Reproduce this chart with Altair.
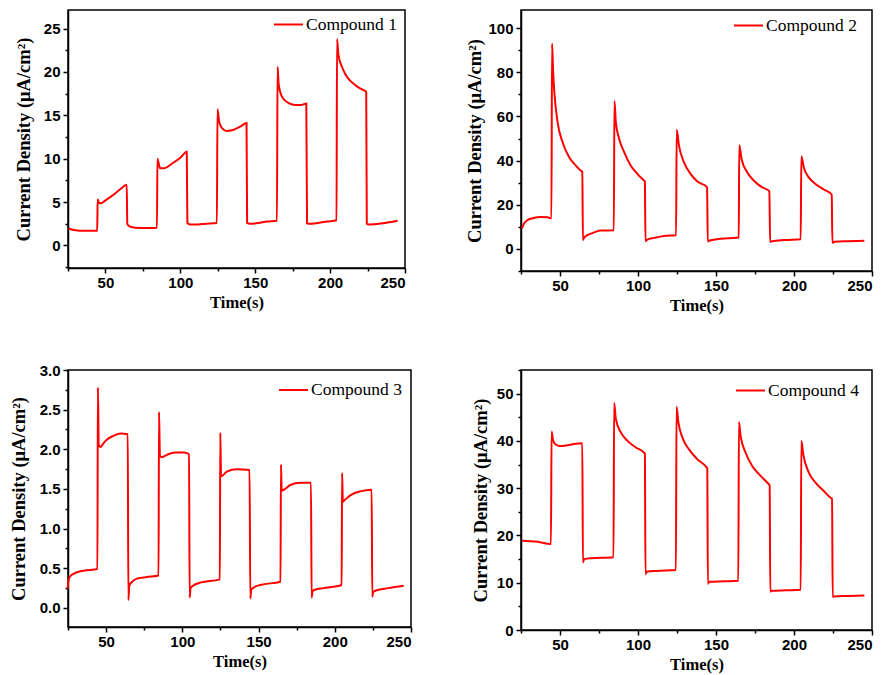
import altair as alt
import pandas as pd

# ---------------- data ----------------
t1 = [25.4, 28, 32.7, 40, 44.5, 44.8, 45.8, 47, 50, 55, 60, 64.2, 64.6, 66, 70, 78, 84.4,
      84.7, 86.5, 89, 95, 100, 104.3, 104.7, 106.5, 110, 117, 124.4, 124.8, 126, 128, 131, 135,
      140, 144.2, 144.6, 146.5, 152, 158, 164.5, 164.9, 165.7, 168, 172.4, 176.8, 181, 184.1,
      184.6, 186, 192, 198, 204.3, 204.6, 205.6, 207.9, 210, 212.3, 216.7, 220, 224.1, 224.5,
      226, 235, 245.1]
y1 = [1.96, 1.8, 1.7, 1.68, 1.68, 5.3, 4.9, 4.85, 5.2, 5.8, 6.5, 7.0, 2.5, 2.2, 2.05, 2.02, 2.05,
      10.0, 8.9, 8.9, 9.5, 10.1, 10.8, 2.6, 2.4, 2.4, 2.5, 2.6, 15.7, 14.2, 13.5, 13.2, 13.3,
      13.7, 14.1, 2.6, 2.5, 2.6, 2.75, 2.85, 20.6, 18.5, 17.1, 16.4, 16.2, 16.2, 16.36,
      2.55, 2.5, 2.6, 2.75, 2.9, 23.8, 21.9, 20.6, 19.8, 19.2, 18.5, 18.1, 17.7, 2.5,
      2.4, 2.55, 2.85]

t2 = [25.5, 27, 29, 32.5, 38, 42, 44.5, 44.9, 45.6, 46.4, 48.5, 51.7, 56, 60.2, 63.4, 64.3,
      64.7, 65.5, 67, 69.8, 73, 76.2, 84.5, 84.9, 85.8, 88, 91.2, 95.4, 99.7, 103.9, 104.4,
      104.8, 106, 110.3, 116.7, 124.4, 124.8, 126.3, 129.5, 133.8, 138.1, 144.3, 144.7, 146,
      153, 163.6, 164.6, 164.9, 166.4, 170, 174.3, 179.6, 184.2, 184.7, 186, 193.5, 204.3,
      204.7, 206.3, 209.5, 213.8, 219.1, 224.2, 224.6, 226, 235, 245.1]
y2 = [9.2, 11.5, 13.0, 13.9, 14.5, 14.3, 13.8, 93.0, 80.0, 70.7, 57.2, 48.2, 41.4, 37.7, 35.4, 35.0,
      4.0, 5.2, 6.0, 6.9, 7.8, 8.3, 8.4, 67.0, 57.2, 49.7, 43.7, 37.7, 33.9, 30.9, 30.5,
      3.5, 4.2, 5.0, 5.9, 6.2, 54.0, 46.7, 39.2, 33.9, 30.5, 27.9, 3.4, 3.8,
      4.65, 5.1, 5.2, 47.0, 40.7, 34.7, 30.9, 27.9, 26.2, 3.2, 3.5, 4.05, 4.35,
      42.0, 36.9, 32.4, 29.4, 26.9, 24.6, 2.8, 3.2, 3.5, 3.75]

t3 = [24.8, 25.3, 26.5, 28.6, 35, 44.3, 44.6, 45.2, 46.5, 48, 50.4, 54.8, 59.2, 64.2, 64.6, 65.2,
      66.5, 70.1, 76.7, 84.4, 84.7, 85.3, 86.5, 89.8, 95.3, 100.8, 104.4, 104.8, 105.4, 107,
      111.7, 124.6, 124.9, 125.4, 126.5, 129.2, 135.8, 144.1, 144.6, 145.2, 147, 151.1, 164.4,
      164.7, 165.2, 166.5, 170.8, 177.4, 184.4, 184.8, 185.4, 187, 192.7, 204.5, 204.8, 205.3,
      206.5, 210.2, 216.7, 224.2, 224.6, 225.2, 227, 235, 245.2]
y3 = [0.24, 0.35, 0.40, 0.43, 0.47, 0.49, 2.78, 2.05, 2.03, 2.07, 2.12, 2.17, 2.2, 2.19, 0.10, 0.28,
      0.32, 0.37, 0.39, 0.41, 2.47, 1.92, 1.90, 1.93, 1.96, 1.96, 1.94, 0.13, 0.25, 0.28,
      0.32, 0.36, 2.21, 1.66, 1.67, 1.72, 1.75, 1.74, 0.12, 0.23, 0.26, 0.29, 0.33,
      1.81, 1.48, 1.49, 1.55, 1.58, 1.58, 0.13, 0.21, 0.23, 0.25, 0.29, 1.70, 1.34,
      1.36, 1.42, 1.47, 1.49, 0.14, 0.20, 0.22, 0.25, 0.28]

t4 = [25.5, 35, 44.2, 44.6, 45.5, 47, 50, 55, 60, 64.3, 64.7, 65.5, 70, 84.3, 84.7, 85.8, 89,
      93.3, 98.6, 103.9, 104.4, 104.8, 105.6, 112, 124.3, 124.7, 125.9, 128.5, 132.7, 138.1,
      144, 144.4, 144.8, 145.6, 155, 164.3, 164.7, 165.8, 169, 173.2, 178.6, 183.9, 184.4,
      184.8, 185.6, 195, 204.3, 204.7, 205.9, 209.5, 213.8, 219.1, 223.8, 224.4, 224.8, 225.6,
      235, 245.1]
y4 = [18.9, 18.7, 18.2, 42.0, 40.2, 39.3, 38.9, 39.1, 39.4, 39.5, 14.3, 15.0, 15.2, 15.4, 48.0, 44.6,
      41.8, 40.0, 38.6, 37.5, 37.3, 11.8, 12.3, 12.5, 12.7, 47.2, 43.9, 40.7, 38.2, 36.1,
      34.4, 34.2, 9.8, 10.2, 10.3, 10.4, 44.0, 41.0, 37.5, 34.7, 32.6, 30.8, 30.6,
      8.1, 8.3, 8.4, 8.5, 40.0, 37.2, 33.3, 31.2, 29.4, 27.9, 27.8, 7.0, 7.1,
      7.2, 7.3]

names = ["Compound 1", "Compound 2", "Compound 3", "Compound 4"]
x_major = [50, 100, 150, 200, 250]
x_minor = [25, 75, 125, 175, 225]

SERIF = "Liberation Serif"
SANS = "Liberation Sans"
RED = "#ff0000"
YTITLE = "Current Density (μA/cm²)"


def panel(t, y, name, ydom, ymaj, ymin, fmt, w, h, ytp, lx, ly):
    df = pd.DataFrame({"t": t, "y": y, "series": name})
    xs = alt.Scale(domain=[25, 250], nice=False, zero=False)
    ys = alt.Scale(domain=ydom, nice=False, zero=False)
    line = alt.Chart(df).mark_line(strokeWidth=2, interpolate="monotone").encode(
        x=alt.X("t:Q", scale=xs,
                axis=alt.Axis(values=x_major, title="Time(s)", format="d", tickSize=5,
                              labelPadding=2, titlePadding=4, titleFontSize=16.5,
                              grid=False, orient="bottom")),
        y=alt.Y("y:Q", scale=ys,
                axis=alt.Axis(values=ymaj, title=YTITLE, format=fmt, tickSize=5,
                              labelPadding=3, titlePadding=ytp, titleFontSize=18.5,
                              grid=False, orient="left")),
        color=alt.Color("series:N", scale=alt.Scale(range=[RED]),
                        legend=alt.Legend(title=None, orient="none", legendX=lx, legendY=ly,
                                          symbolType="stroke", symbolSize=841,
                                          symbolStrokeWidth=2, labelFont=SERIF,
                                          labelFontSize=17.5, labelColor="black",
                                          labelOffset=2, padding=0)),
    )
    minor = alt.Chart(df).mark_line(strokeOpacity=0).encode(
        x=alt.X("t:Q", scale=xs,
                axis=alt.Axis(values=x_minor, labels=False, tickSize=3, title=None,
                              domain=False, grid=False, orient="bottom")),
        y=alt.Y("y:Q", scale=ys,
                axis=alt.Axis(values=ymin, labels=False, tickSize=3, title=None,
                              domain=False, grid=False, orient="left")),
    )
    return alt.layer(line, minor).resolve_axis(x="independent", y="independent").properties(
        width=w, height=h)


p1 = panel(t1, y1, names[0], [-2.6, 27.14], [0, 5, 10, 15, 20, 25],
           [-2.5, 2.5, 7.5, 12.5, 17.5, 22.5], "d", 337, 258, 9.5, 205, -1)
p2 = panel(t2, y2, names[1], [-10, 108.2], [0, 20, 40, 60, 80, 100],
           [-10, 10, 30, 50, 70, 90], "d", 351, 261, 3, 212, 0)
p3 = panel(t3, y3, names[2], [-0.24, 3.0], [0, 0.5, 1.0, 1.5, 2.0, 2.5, 3.0],
           [0.25, 0.75, 1.25, 1.75, 2.25, 2.75], ".1f", 343, 257, 11, 210, 4.5)
p4 = panel(t4, y4, names[3], [0, 55], [0, 10, 20, 30, 40, 50],
           [5, 15, 25, 35, 45, 55], "d", 351, 260, 5.5, 214, 5)

chart = alt.concat(p1, p2, p3, p4, columns=2, spacing={"row": 99, "column": 110},
                   bounds="flush").resolve_scale(color="independent").properties(
    padding={"left": 0, "top": 0, "right": 0, "bottom": 0},
    background="white"
).configure_view(stroke="black", strokeWidth=1.5).configure_axis(
    domainColor="black", domainWidth=1.5, tickColor="black", tickWidth=1.5,
    labelFont=SANS, labelFontWeight="bold", labelFontSize=15, labelColor="black",
    titleFont=SERIF, titleFontWeight="bold", titleFontSize=17.5, titleColor="black"
)

chart.save("out.html", embed_options={"renderer": "svg", "actions": False})
